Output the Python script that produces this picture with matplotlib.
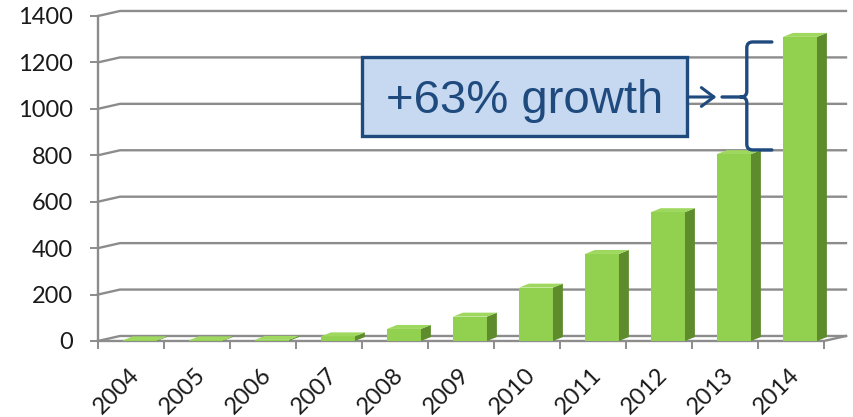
import numpy as np
import matplotlib.pyplot as plt
from matplotlib.patches import Polygon, Rectangle, PathPatch
from matplotlib.path import Path
from matplotlib.transforms import ScaledTranslation

# data
years = ['2004', '2005', '2006', '2007', '2008', '2009',
         '2010', '2011', '2012', '2013', '2014']
values = [3, 3, 5, 20, 52, 105, 230, 375, 555, 805, 1310]
yticks = [0, 200, 400, 600, 800, 1000, 1200, 1400]
note = '+63% growth'

# colours
front_c = '#92D050'
side_c = '#5E8C2C'
top_c = '#9ED85E'
grid_c = '#8C8C8C'
blue = '#1F4A7E'
box_c = '#C6D9F0'

# fake-3D geometry (data units)
wall_dx, wall_dy = 0.333, 21.5     # depth of the floor / back wall
bar_off, bar_w = 0.136, 0.515      # front face offset and width
bar_dx, bar_dy = 0.15, 17.0        # depth of each bar

plt.rcParams['font.family'] = ['Lato', 'DejaVu Sans']

fig = plt.figure(figsize=(8.54, 4.17), dpi=100)
ax = fig.add_axes([98 / 854, 0.1823, (846 - 98) / 854, 0.7794])
x = np.arange(len(years))
ax.set_xlim(-0.5, len(years) - 0.5 + wall_dx)
ax.set_ylim(0, 1400)

# back wall gridlines with the little side-wall diagonal
x0, x1 = -0.5, len(years) - 0.5
for v in yticks:
    ax.plot([x0, x0 + wall_dx, x1 + wall_dx], [v, v + wall_dy, v + wall_dy],
            color=grid_c, lw=1.7, clip_on=False, zorder=1)
# floor: front edge and right edge
ax.plot([x0, x1, x1 + wall_dx], [0, 0, wall_dy], color=grid_c, lw=1.7,
        clip_on=False, zorder=1)
# left axis
ax.plot([x0, x0], [0, 1400], color=grid_c, lw=1.7, clip_on=False, zorder=1)

# bars: front, side and top faces
left = x - bar_w / 2 + bar_off
ax.bar(left, values, width=bar_w, align='edge', color=front_c,
       linewidth=0, zorder=3)
for xl, v in zip(left, values):
    xr = xl + bar_w
    ax.add_patch(Polygon([(xr, 0), (xr + bar_dx, bar_dy),
                          (xr + bar_dx, v + bar_dy), (xr, v)],
                         closed=True, color=side_c, lw=0, zorder=3))
    ax.add_patch(Polygon([(xl, v), (xr, v), (xr + bar_dx, v + bar_dy),
                          (xl + bar_dx, v + bar_dy)],
                         closed=True, color=top_c, lw=0, zorder=3))

for s in ax.spines.values():
    s.set_visible(False)

ax.set_yticks(yticks)
ax.set_yticklabels([str(v) for v in yticks], fontsize=17, color='#1a1a1a')
ax.tick_params(axis='y', length=6, width=1.4, color=grid_c, pad=12)

ax.set_xticks(x)
ax.set_xticks(np.arange(len(years) + 1) - 0.5, minor=True)
ax.set_xticklabels(years, fontsize=17, color='#1a1a1a', rotation=45,
                   ha='right', va='center', rotation_mode='anchor')
ax.tick_params(axis='x', which='major', length=0, pad=22)
ax.tick_params(axis='x', which='minor', length=6, width=1.4, color=grid_c)
for lab in ax.get_xticklabels():
    lab.set_transform(lab.get_transform() +
                      ScaledTranslation(5 / 100, 0, fig.dpi_scale_trans))

# annotation box
ax.add_patch(Rectangle((3.5, 883), 8.424 - 3.5, 1223 - 883,
                       facecolor=box_c, edgecolor=blue, lw=2.4,
                       clip_on=False, zorder=5))
ax.text(5.962, 982, note, ha='center', va='baseline', fontsize=34,
        family='Liberation Sans', color=blue, zorder=6)
ax.annotate('', xy=(8.87, 1051), xytext=(8.43, 1051),
            arrowprops=dict(arrowstyle='->,head_length=0.6,head_width=0.45',
                            lw=2.2, color=blue, mutation_scale=15,
                            shrinkA=0, shrinkB=0),
            annotation_clip=False, zorder=6)

# curly brace from 2013 level up to 2014 level
xe, xv, xt = 9.71, 9.33, 8.955
yt, ym, yb = 1288, 1051, 823
rx, ry = 0.09, 25
verts = [(xe, yt), (xv + rx, yt), (xv, yt), (xv, yt - ry),
         (xv, ym + ry), (xv, ym), (xv - rx, ym), (xt, ym),
         (xv - rx, ym), (xv, ym), (xv, ym - ry),
         (xv, yb + ry), (xv, yb), (xv + rx, yb), (xe, yb)]
codes = [Path.MOVETO, Path.LINETO, Path.CURVE3, Path.CURVE3,
         Path.LINETO, Path.CURVE3, Path.CURVE3, Path.LINETO,
         Path.MOVETO, Path.CURVE3, Path.CURVE3,
         Path.LINETO, Path.CURVE3, Path.CURVE3, Path.LINETO]
ax.add_patch(PathPatch(Path(verts, codes), facecolor='none', edgecolor=blue,
                       lw=2.4, capstyle='round', clip_on=False, zorder=6))

fig.savefig('out.png', dpi=100)
